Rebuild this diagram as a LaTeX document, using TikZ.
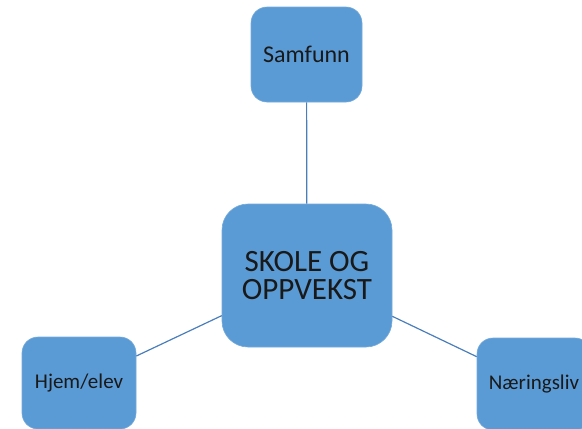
\documentclass[tikz,border=0pt]{standalone}
\usepackage{fontspec}
\setmainfont{Carlito}
\definecolor{boxblue}{HTML}{5B9BD5}
\definecolor{linkblue}{HTML}{4A7EBB}
\tikzset{
  topic/.style={fill=boxblue, draw=boxblue!85!white, line width=0.6pt, inner sep=0pt,
    rounded corners=16pt, font=\fontsize{21}{23}\selectfont, text=black!90},
  hub/.style={topic, rounded corners=26pt, align=center,
    font=\fontsize{31}{28}\selectfont},
  link/.style={draw=linkblue, line width=1.2pt}
}
\begin{document}
\begin{tikzpicture}[x=1pt, y=-1pt]
  \useasboundingbox (0,0) rectangle (582,429);
  \clip (0,0) rectangle (582,429);
  \node[hub, minimum width=170pt, minimum height=143pt] (skole) at (307,275.5) {SKOLE OG\\OPPVEKST};
  \node[topic, minimum width=111pt, minimum height=95pt, font=\fontsize{24}{26}\selectfont] (samfunn) at (306.5,54.5) {Samfunn};
  \node[topic, minimum width=114pt, minimum height=92pt] (hjem) at (79,383) {Hjem/elev};
  \node[topic, minimum width=114pt, minimum height=92pt] (naering) at (534,384) {Næringsliv};
  \draw[link] (samfunn) -- (skole);
  \draw[link] (skole) -- (hjem);
  \draw[link] (skole) -- (naering);
\end{tikzpicture}
\end{document}
